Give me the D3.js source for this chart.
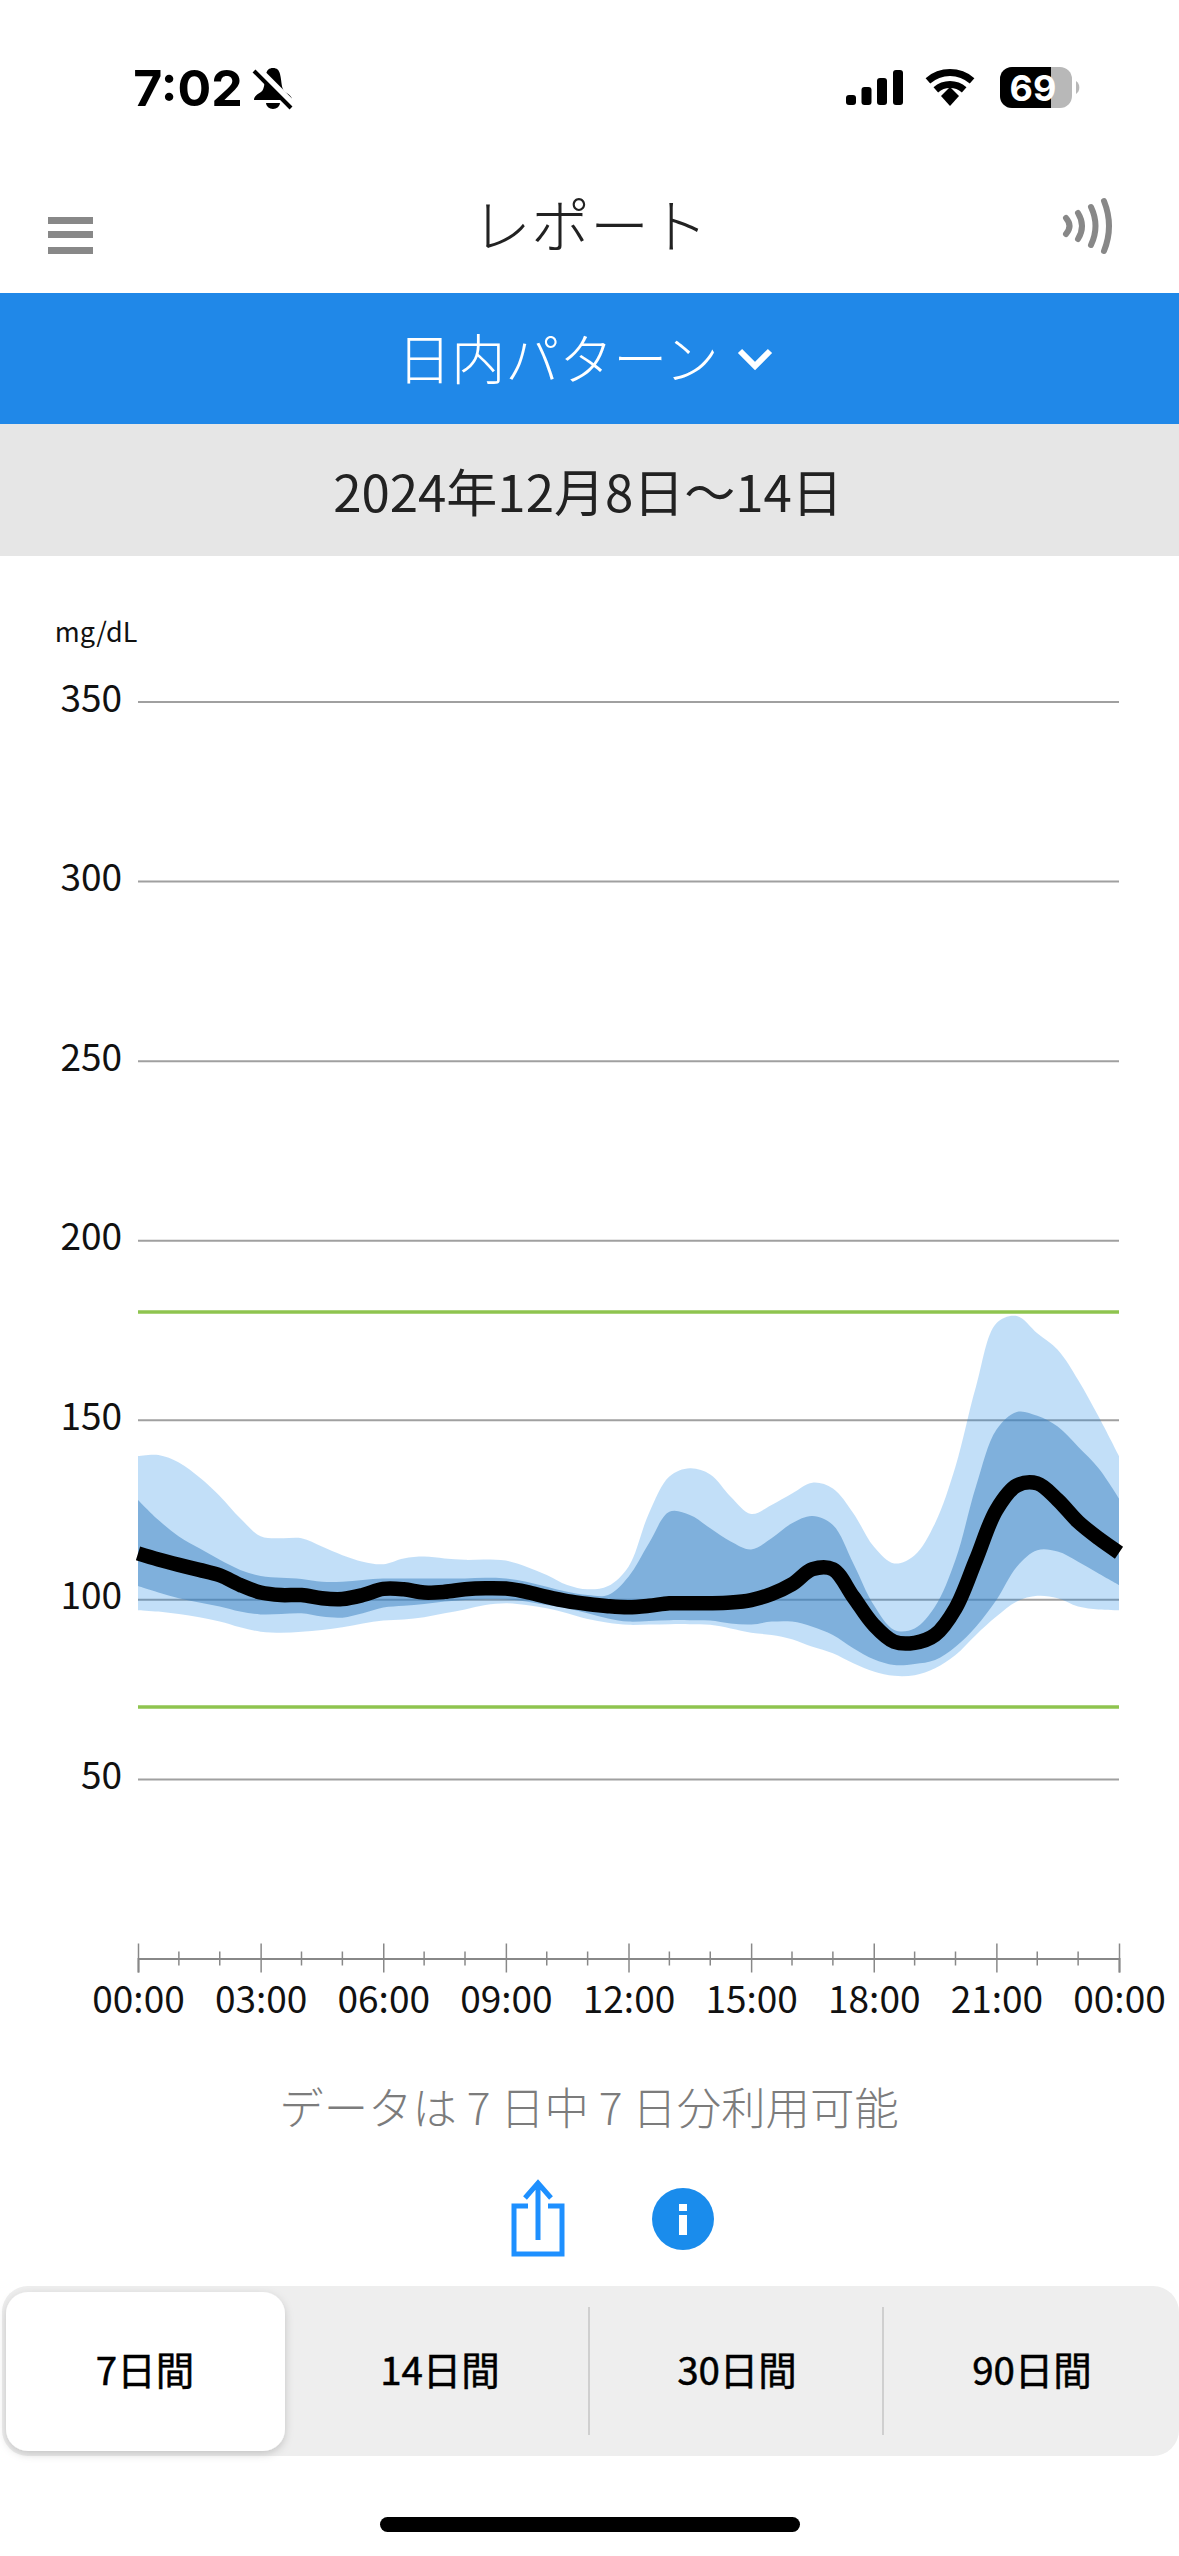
<!DOCTYPE html>
<html lang="ja">
<head>
<meta charset="utf-8">
<title>レポート</title>
<script src="https://cdn.jsdelivr.net/npm/d3@7"></script>
<style>
  html, body { margin: 0; padding: 0; background: #fff; }
  svg { display: block; }
  text { font-family: "Noto Sans CJK JP", "Noto Sans", sans-serif; }
  .status { font-family: Inter, Roboto, sans-serif; font-weight: 700; }
</style>
</head>
<body>
<div id="chart"></div>
<script>
// half hour steps, 00:00 to 24:00
const hours = d3.range(49).map((i) => i / 2);

const p95 = [139.9,140.2,138.1,134.0,128.8,122.6,117.6,117.0,117.0,114.7,112.3,110.5,109.8,111.4,111.9,111.4,111.0,111.1,110.8,109.1,106.8,104.0,102.8,103.7,
  109.1,124.0,134.2,136.5,134.8,128.6,123.8,126.3,129.5,132.5,130.9,124.0,114.7,110.0,112.3,121.2,137.0,159.2,176.9,178.9,174.1,169.5,161.1,150.9,139.9];
const p75 = [127.7,122.1,117.5,114.2,111.0,108.2,106.5,106.0,105.7,104.9,104.9,105.4,105.8,105.8,105.8,105.8,105.8,106.0,105.8,104.9,103.5,102.1,101.2,101.2,
  106.3,115.6,124.4,123.5,119.8,116.1,113.9,117.0,121.2,123.2,120.7,110.0,98.4,91.5,91.9,98.0,111.0,131.4,147.2,152.2,151.1,148.1,142.5,136.5,128.1];
const median = [112.8,111.1,109.6,108.2,106.7,104.0,101.9,101.2,101.2,100.3,100.1,101.2,102.9,102.8,101.9,102.1,102.8,103.1,103.0,102.1,100.7,99.5,98.7,98.1,
  97.8,98.2,98.9,98.9,98.9,99.1,99.8,101.5,104.2,108.4,108.4,100.7,92.9,88.2,87.9,90.1,97.5,111.0,124.9,131.7,132.3,127.7,121.6,117.0,113.0];
const p25 = [103.7,101.9,100.3,99.1,98.0,96.6,95.8,95.9,96.1,95.2,94.9,96.1,97.7,98.2,98.7,99.4,99.8,100.1,100.0,99.4,98.4,97.5,96.1,94.7,
  93.8,94.0,94.2,94.2,94.1,93.3,93.0,93.8,93.8,92.4,90.1,86.4,83.3,81.7,82.0,83.1,86.8,92.4,99.8,109.1,113.7,113.3,110.5,107.2,104.0];
const p5 = [97.0,96.6,95.9,95.0,93.8,92.2,91.0,90.7,91.0,91.5,92.2,93.3,94.1,94.4,95.0,96.1,97.2,98.4,98.9,98.4,97.5,96.1,94.5,93.5,
  92.9,93.0,93.1,93.1,92.9,91.9,90.7,90.1,88.9,86.8,85.0,82.2,79.9,78.7,78.9,80.8,84.5,90.1,95.2,99.4,101.0,100.3,98.0,97.2,97.0];

const yTicks = [50, 100, 150, 200, 250, 300, 350];
const targetRange = [70, 180];
const majorHours = [0, 3, 6, 9, 12, 15, 18, 21, 24];
const minorHours = d3.range(25).filter((h) => h % 3 !== 0);
const xLabels = ['00:00', '03:00', '06:00', '09:00', '12:00', '15:00', '18:00', '21:00', '00:00'];
const periods = ['7日間', '14日間', '30日間', '90日間'];
const periodX = [145, 440, 737, 1032];
const dividerX = [589, 883];

const W = 1179;
const H = 2556;
const BLUE = '#2088e8';

const svg = d3.select('#chart').append('svg')
  .attr('width', W)
  .attr('height', H)
  .attr('viewBox', `0 0 ${W} ${H}`);

const addText = (parent, str, x, y, size, fill, anchor = 'middle', weight = 400) => parent.append('text')
  .attr('x', x)
  .attr('y', y)
  .attr('font-size', size)
  .attr('font-weight', weight)
  .attr('fill', fill)
  .attr('text-anchor', anchor)
  .attr('dominant-baseline', 'central')
  .text(str);

// status bar
const gS = svg.append('g');
addText(gS, '7:02', 188, 88, 50, '#000', 'middle', 600).attr('class', 'status');
gS.append('path')
  .attr('d', 'M273 68c-4 0-6 2-7 6-2 8-1 15-5 18-3 2-7 4-7 8h38c0-4-4-6-7-8-4-3-3-10-5-18-1-4-3-6-7-6zM266 103a7 6 0 0 0 14 0z')
  .attr('fill', '#000');
gS.append('line').attr('x1', 256).attr('y1', 68).attr('x2', 294).attr('y2', 106)
  .attr('stroke', '#fff').attr('stroke-width', 8);
gS.append('line').attr('x1', 254).attr('y1', 71).attr('x2', 291).attr('y2', 108)
  .attr('stroke', '#000').attr('stroke-width', 4);
[[846, 95, 10], [860, 87, 18], [874, 78, 27], [895, 70, 35]].forEach((b, i) => {
  gS.append('rect')
    .attr('x', i === 3 ? 893 : b[0] + i * 1.5)
    .attr('y', b[1])
    .attr('width', 10)
    .attr('height', b[2])
    .attr('rx', 3)
    .attr('fill', '#000');
});
[25, 37].forEach((r) => {
  gS.append('path')
    .attr('d', d3.arc()({ innerRadius: r - 7, outerRadius: r, startAngle: -0.72, endAngle: 0.72 }))
    .attr('transform', 'translate(950,106)')
    .attr('fill', '#000');
});
gS.append('path').attr('d', 'M941 96l9-9 9 9-9 10z').attr('fill', '#000');
gS.append('rect').attr('x', 1000).attr('y', 67).attr('width', 72).attr('height', 41).attr('rx', 12).attr('fill', '#b8b8b8');
gS.append('path').attr('d', 'M1012 67h39v41h-39a12 12 0 0 1-12-12v-17a12 12 0 0 1 12-12z').attr('fill', '#000');
gS.append('path').attr('d', 'M1076 81a8 8 0 0 1 0 13z').attr('fill', '#b8b8b8');
addText(gS, '69', 1033, 88, 36, '#fff', 'middle', 700).attr('class', 'status');

// nav bar
const gN = svg.append('g');
[217, 231, 247].forEach((y) => {
  gN.append('rect').attr('x', 48).attr('y', y).attr('width', 45).attr('height', 7).attr('fill', '#888');
});
addText(gN, 'レポート', 590, 222, 59, '#222', 'middle', 300);
[[1066, 8], [1078, 13], [1091, 19], [1104, 25]].forEach((a, i) => {
  gN.append('path')
    .attr('d', `M${a[0]} ${226 - a[1]}Q${a[0] + 7 + i} 226 ${a[0]} ${226 + a[1]}`)
    .attr('fill', 'none')
    .attr('stroke', '#888')
    .attr('stroke-width', 6)
    .attr('stroke-linecap', 'round');
});

// header bars
svg.append('rect').attr('x', 0).attr('y', 293).attr('width', W).attr('height', 131).attr('fill', BLUE);
svg.append('rect').attr('x', 0).attr('y', 424).attr('width', W).attr('height', 132).attr('fill', '#e6e6e6');
addText(svg, '日内パターン', 558, 356, 54, '#fff', 'middle', 300);
svg.append('path')
  .attr('d', 'M740 351l15 15 15-15')
  .attr('fill', 'none')
  .attr('stroke', '#fff')
  .attr('stroke-width', 6);
addText(svg, '2024年12月8日〜14日', 588, 490, 51, '#222');

// chart
const xScale = d3.scaleLinear().domain([0, 24]).range([138, 1119]);
const yScale = d3.scaleLinear().domain([0, 350]).range([1958.5, 701.5]);

addText(svg, 'mg/dL', 96, 630, 27, '#111');

const gG = svg.append('g')
  .attr('transform', 'translate(138,0)')
  .call(d3.axisLeft(yScale).tickValues(yTicks).tickSize(-981).tickPadding(16));
gG.select('.domain').remove();
gG.selectAll('.tick line').attr('stroke', '#a0a0a0').attr('stroke-width', 2);
gG.selectAll('.tick text')
  .attr('font-size', 37)
  .attr('fill', '#111')
  .attr('font-family', '"Noto Sans CJK JP", sans-serif')
  .attr('dy', '0.26em');

const band = (lo, hi) => d3.area()
  .x((d, i) => xScale(hours[i]))
  .y0((d, i) => yScale(lo[i]))
  .y1((d, i) => yScale(hi[i]))
  .curve(d3.curveCatmullRom.alpha(0.5));

svg.append('path').datum(hours)
  .attr('d', band(p5, p95))
  .attr('fill', '#1e88e5')
  .attr('fill-opacity', 0.27);
svg.append('path').datum(hours)
  .attr('d', band(p25, p75))
  .attr('fill', '#3c81c0')
  .attr('fill-opacity', 0.5);

targetRange.forEach((v) => {
  svg.append('line')
    .attr('x1', xScale(0))
    .attr('x2', xScale(24))
    .attr('y1', yScale(v))
    .attr('y2', yScale(v))
    .attr('stroke', '#8fc44f')
    .attr('stroke-width', 3.5);
});

svg.append('path').datum(median)
  .attr('d', d3.line()
    .x((d, i) => xScale(hours[i]))
    .y((d) => yScale(d))
    .curve(d3.curveCatmullRom.alpha(0.5)))
  .attr('fill', 'none')
  .attr('stroke', '#000')
  .attr('stroke-width', 14.5);

// time axis, ticks straddle the line
const gX = svg.append('g')
  .attr('transform', `translate(0,${yScale(0)})`)
  .call(d3.axisBottom(xScale)
    .tickValues(majorHours)
    .tickSize(14)
    .tickPadding(14)
    .tickFormat((d, i) => xLabels[i]));
gX.select('.domain').attr('stroke', '#888').attr('stroke-width', 2);
gX.selectAll('.tick line').attr('y1', -15).attr('y2', 14).attr('stroke', '#888').attr('stroke-width', 1.5);
gX.selectAll('.tick text')
  .attr('font-size', 37)
  .attr('fill', '#111')
  .attr('font-family', '"Noto Sans CJK JP", sans-serif');
gX.selectAll('.minor')
  .data(minorHours)
  .enter()
  .append('line')
  .attr('class', 'minor')
  .attr('x1', (d) => xScale(d))
  .attr('x2', (d) => xScale(d))
  .attr('y1', -7)
  .attr('y2', 7)
  .attr('stroke', '#888')
  .attr('stroke-width', 1.5);

addText(svg, 'データは 7 日中 7 日分利用可能', 589, 2105, 44.4, '#7c7c7c', 'middle', 300);

// share + info
svg.append('path')
  .attr('d', 'M528 2206h-14v48h48v-48h-14M538 2240v-54M525 2198l13-15 13 15')
  .attr('fill', 'none')
  .attr('stroke', '#1e90ff')
  .attr('stroke-width', 5);
svg.append('circle').attr('cx', 683).attr('cy', 2219).attr('r', 31).attr('fill', '#1a8cec');
svg.append('rect').attr('x', 679).attr('y', 2204).attr('width', 8).attr('height', 7).attr('fill', '#fff');
svg.append('rect').attr('x', 679).attr('y', 2215).attr('width', 8).attr('height', 20).attr('fill', '#fff');

// period selector
const defs = svg.append('defs');
const shadow = defs.append('filter').attr('id', 'sh').attr('x', '-20%').attr('y', '-20%').attr('width', '140%').attr('height', '140%');
shadow.append('feDropShadow').attr('dx', 0).attr('dy', 3).attr('stdDeviation', 4).attr('flood-color', '#000').attr('flood-opacity', 0.18);
svg.append('rect').attr('x', 2).attr('y', 2286).attr('width', 1177).attr('height', 170).attr('rx', 26).attr('fill', '#eeeeee');
svg.append('rect').attr('x', 6).attr('y', 2292).attr('width', 279).attr('height', 159).attr('rx', 22).attr('fill', '#fff').attr('filter', 'url(#sh)');
dividerX.forEach((x) => {
  svg.append('line').attr('x1', x).attr('x2', x).attr('y1', 2307).attr('y2', 2435).attr('stroke', '#cfcfcf').attr('stroke-width', 2);
});
periods.forEach((p, i) => {
  addText(svg, p, periodX[i], 2368, 38.5, '#000').attr('stroke', '#000').attr('stroke-width', 0.5);
});

// home indicator
svg.append('rect').attr('x', 380).attr('y', 2517).attr('width', 420).attr('height', 15).attr('rx', 7.5).attr('fill', '#000');
</script>
</body>
</html>
